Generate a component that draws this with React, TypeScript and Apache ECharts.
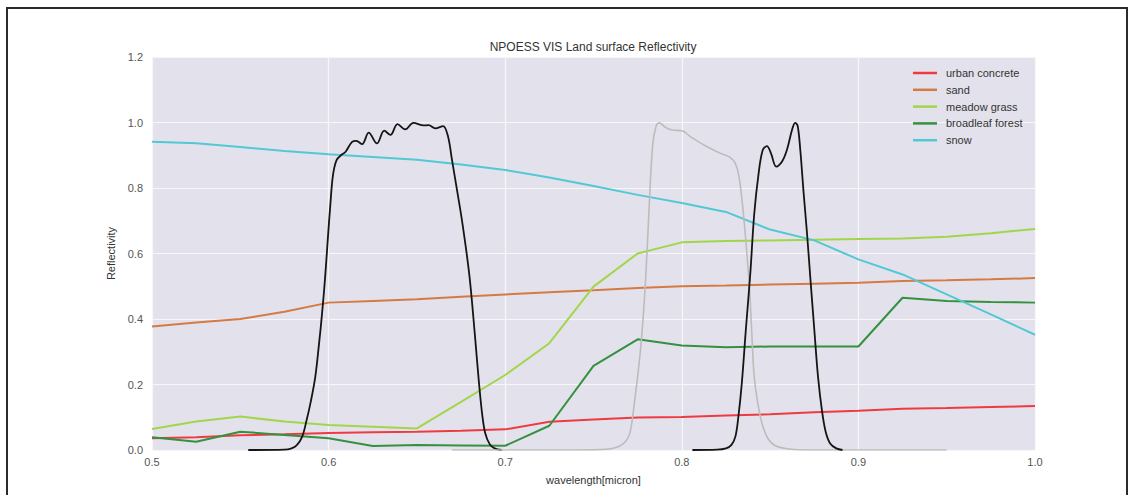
import React, { useEffect, useRef } from "react";
import * as echarts from "echarts";

// Wavelength grid (micron) for the surface reflectivity spectra
const wavelength = [
  0.5, 0.525, 0.55, 0.575, 0.6, 0.625, 0.65, 0.675, 0.7, 0.725, 0.75,
  0.775, 0.8, 0.825, 0.85, 0.875, 0.9, 0.925, 0.95, 0.975, 1.0,
];

const urbanConcrete = [
  0.036, 0.039, 0.045, 0.048, 0.052, 0.054, 0.056, 0.059, 0.063, 0.086, 0.093,
  0.099, 0.101, 0.105, 0.109, 0.115, 0.12, 0.126, 0.128, 0.131, 0.134,
];
const sand = [
  0.377, 0.389, 0.4, 0.422, 0.45, 0.455, 0.46, 0.468, 0.475, 0.482, 0.488,
  0.495, 0.5, 0.502, 0.505, 0.508, 0.511, 0.516, 0.518, 0.521, 0.525,
];
const meadowGrass = [
  0.064, 0.087, 0.102, 0.087, 0.076, 0.071, 0.066, 0.147, 0.229, 0.326, 0.499,
  0.6, 0.634, 0.638, 0.64, 0.642, 0.644, 0.646, 0.651, 0.662, 0.675,
];
const broadleafForest = [
  0.039, 0.025, 0.056, 0.046, 0.036, 0.012, 0.015, 0.014, 0.013, 0.074, 0.257,
  0.338, 0.319, 0.314, 0.316, 0.316, 0.316, 0.465, 0.455, 0.452, 0.45,
];
const snow = [
  0.941, 0.937, 0.925, 0.913, 0.903, 0.895, 0.886, 0.872, 0.855, 0.832, 0.806,
  0.779, 0.754, 0.727, 0.673, 0.64, 0.582, 0.536, 0.475, 0.414, 0.352,
];

// Relative spectral response of the instrument bands: [wavelength, response]
const bandVisible: number[][] = [
  [0.5545, 0], [0.575, 0.001], [0.579, 0.005], [0.582, 0.015], [0.585, 0.04],
  [0.5875, 0.09], [0.59, 0.15], [0.5925, 0.225], [0.5945, 0.32],
  [0.5963, 0.417], [0.598, 0.525], [0.5995, 0.64], [0.601, 0.75],
  [0.6025, 0.84], [0.6045, 0.885], [0.607, 0.9], [0.6095, 0.91],
  [0.6133, 0.941], [0.6157, 0.944], [0.619, 0.934], [0.6227, 0.969],
  [0.6274, 0.936], [0.6315, 0.975], [0.635, 0.962], [0.639, 0.995],
  [0.6434, 0.979], [0.648, 0.999], [0.6538, 0.991], [0.6566, 0.992],
  [0.6604, 0.982], [0.6648, 0.989], [0.6675, 0.96], [0.6699, 0.885],
  [0.6727, 0.794], [0.6755, 0.702], [0.6797, 0.534], [0.683, 0.341],
  [0.685, 0.214], [0.6869, 0.112], [0.6887, 0.051], [0.6912, 0.018],
  [0.694, 0.005], [0.698, 0],
];
const bandGrey: number[][] = [
  [0.67, 0], [0.74, 0], [0.757, 0.002], [0.764, 0.01], [0.768, 0.025],
  [0.7705, 0.05], [0.772, 0.095], [0.7735, 0.16], [0.775, 0.225],
  [0.7772, 0.34], [0.7795, 0.52], [0.7815, 0.74], [0.7835, 0.93],
  [0.7855, 0.99], [0.7874, 0.999], [0.7907, 0.985], [0.7944, 0.977],
  [0.8001, 0.975], [0.8048, 0.957], [0.8143, 0.926], [0.8218, 0.906],
  [0.8275, 0.893], [0.8303, 0.875], [0.8322, 0.84], [0.8341, 0.763],
  [0.8356, 0.68], [0.837, 0.59], [0.8384, 0.49], [0.8397, 0.35],
  [0.841, 0.225], [0.8433, 0.135], [0.846, 0.07], [0.849, 0.033],
  [0.853, 0.013], [0.8597, 0.004], [0.871, 0], [0.95, 0],
];
const bandNearIR: number[][] = [
  [0.806, 0], [0.82, 0.001], [0.825, 0.005], [0.828, 0.015], [0.8303, 0.04],
  [0.832, 0.1], [0.834, 0.205], [0.8363, 0.37], [0.8388, 0.54],
  [0.841, 0.72], [0.8435, 0.845], [0.8458, 0.915], [0.8482, 0.928],
  [0.8505, 0.906], [0.8535, 0.865], [0.8567, 0.88], [0.8595, 0.916],
  [0.8624, 0.977], [0.8642, 0.999], [0.8656, 0.99], [0.8671, 0.916],
  [0.869, 0.784], [0.8709, 0.662], [0.8728, 0.524], [0.875, 0.37],
  [0.8772, 0.22], [0.8795, 0.115], [0.8815, 0.055], [0.884, 0.02],
  [0.8875, 0.005], [0.891, 0],
];

const surfaces = [
  { name: "urban concrete", values: urbanConcrete, color: "#f03a42" },
  { name: "sand", values: sand, color: "#d57a44" },
  { name: "meadow grass", values: meadowGrass, color: "#a2d64a" },
  { name: "broadleaf forest", values: broadleafForest, color: "#33913f" },
  { name: "snow", values: snow, color: "#52c8d4" },
];

const FONT = '"Liberation Sans", Arial, Helvetica, sans-serif';

export default function App() {
  const ref = useRef<HTMLDivElement>(null);

  useEffect(() => {
    if (!ref.current) return;
    const chart = echarts.init(ref.current, null, { renderer: "svg" });

    const surfaceSeries = surfaces.map((s) => ({
      name: s.name,
      type: "line",
      data: wavelength.map((w, i) => [w, s.values[i]]),
      showSymbol: false,
      symbol: "none",
      lineStyle: { color: s.color, width: 2 },
      itemStyle: { color: s.color },
      z: 2,
    }));

    const bandSeries = [
      { data: bandVisible, color: "#151515", width: 1.8 },
      { data: bandGrey, color: "#bcbcbc", width: 1.6 },
      { data: bandNearIR, color: "#151515", width: 1.8 },
    ].map((b) => ({
      type: "line",
      data: b.data,
      showSymbol: false,
      symbol: "none",
      smooth: 0.35,
      lineStyle: { color: b.color, width: b.width },
      z: 3,
    }));

    chart.setOption({
      animation: false,
      backgroundColor: "#ffffff",
      textStyle: { fontFamily: FONT },
      grid: {
        left: 152,
        right: 110,
        top: 57,
        bottom: 45,
        show: true,
        backgroundColor: "#e3e2ec",
        borderWidth: 0,
      },
      legend: {
        data: surfaces.map((s) => s.name),
        orient: "vertical",
        left: 913,
        top: 67,
        padding: 0,
        icon: "rect",
        itemWidth: 24,
        itemHeight: 2.5,
        itemGap: 4.8,
        textStyle: {
          fontFamily: FONT,
          fontSize: 11,
          color: "#333333",
          lineHeight: 12,
          padding: [0, 0, 0, 4],
        },
      },
      xAxis: {
        type: "value",
        min: 0.5,
        max: 1.0,
        interval: 0.1,
        axisLine: { show: false },
        axisTick: { show: false },
        splitLine: { show: true, lineStyle: { color: "#f7f7fa", width: 1.2 } },
        axisLabel: {
          color: "#555555",
          fontSize: 11,
          fontFamily: FONT,
          margin: 6,
          formatter: (v: number) => v.toFixed(1),
        },
        name: "wavelength[micron]",
        nameLocation: "middle",
        nameGap: 24,
        nameTextStyle: { color: "#333333", fontSize: 11, fontFamily: FONT },
      },
      yAxis: {
        type: "value",
        min: 0,
        max: 1.2,
        interval: 0.2,
        axisLine: { show: false },
        axisTick: { show: false },
        splitLine: { show: true, lineStyle: { color: "#f7f7fa", width: 1.2 } },
        axisLabel: {
          color: "#555555",
          fontSize: 11,
          fontFamily: FONT,
          margin: 9,
          formatter: (v: number) => v.toFixed(1),
        },
        name: "Reflectivity",
        nameLocation: "middle",
        nameGap: 27,
        nameTextStyle: { color: "#333333", fontSize: 11, fontFamily: FONT },
      },
      graphic: [
        {
          type: "rect",
          shape: { x: 7, y: 8, width: 1120, height: 520 },
          style: { fill: "none", stroke: "#2b2b2b", lineWidth: 2 },
          silent: true,
        },
        {
          type: "text",
          x: 593,
          y: 47,
          style: {
            text: "NPOESS VIS Land surface Reflectivity",
            font: `12px ${FONT}`,
            fill: "#333333",
            textAlign: "center",
            textVerticalAlign: "middle",
            align: "center",
            verticalAlign: "middle",
          },
          silent: true,
        },
      ],
      series: [...surfaceSeries, ...bandSeries],
    });

    return () => {
      chart.dispose();
    };
  }, []);

  return (
    <div
      ref={ref}
      style={{ position: "absolute", left: 0, top: 0, width: 1145, height: 495 }}
    />
  );
}
